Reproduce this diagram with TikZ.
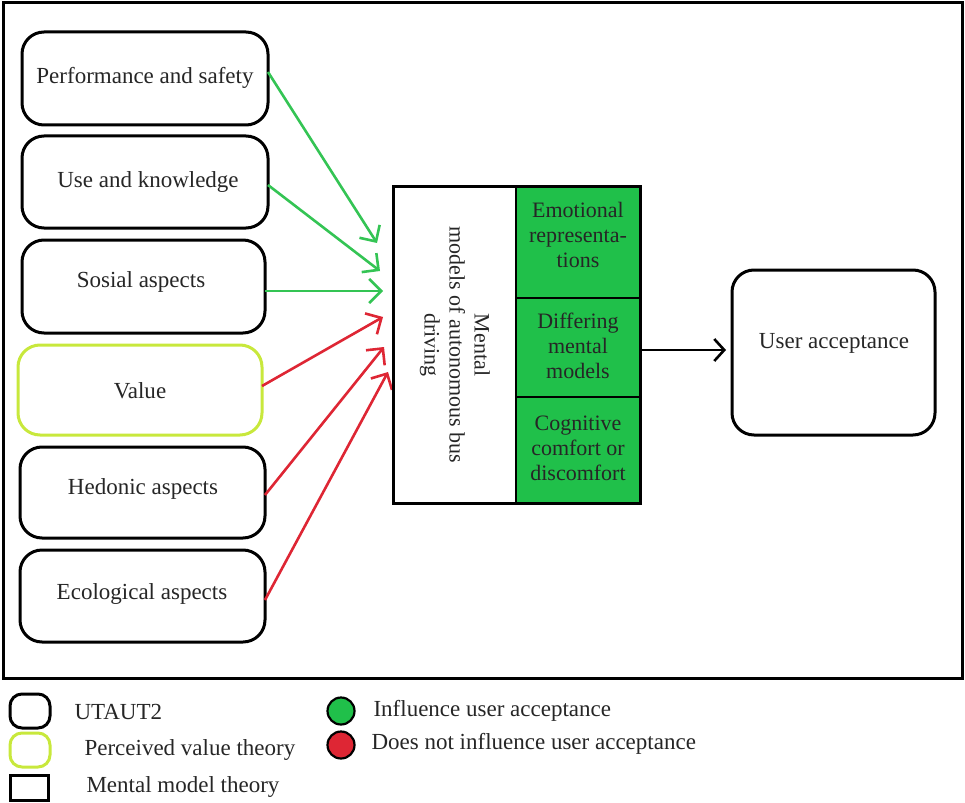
\documentclass[tikz,border=0pt]{standalone}
\usepackage{fontspec}
\setmainfont{Liberation Serif}
\usetikzlibrary{arrows.meta}
\definecolor{boxgreen}{RGB}{32,192,74}
\definecolor{arrgreen}{RGB}{52,196,84}
\definecolor{arrred}{RGB}{222,38,52}
\definecolor{valyel}{RGB}{200,232,60}
\tikzset{
  txt/.style={font=\fontsize{23}{25}\selectfont, text=black!85},
  ctxt/.style={font=\fontsize{22}{25}\selectfont, text=black!85},
  rbox/.style={draw=black, line width=3pt, rounded corners=22pt, fill=white},
  ybox/.style={draw=valyel, line width=3pt, rounded corners=22pt, fill=white},
  garr/.style={draw=arrgreen, line width=2.6pt, -{Straight Barb[length=12pt,width=24pt,line width=2.6pt]}},
  rarr/.style={draw=arrred, line width=2.6pt, -{Straight Barb[length=12pt,width=24pt,line width=2.6pt]}},
  karr/.style={draw=black, line width=2.6pt, -{Straight Barb[length=10pt,width=22pt,line width=2.6pt]}},
}
\begin{document}
\begin{tikzpicture}[x=1pt,y=-1pt]
\useasboundingbox (0,0) rectangle (965,802);
\draw[line width=3pt] (3,3) rectangle (962,678);
% left boxes
\draw[rbox] (22,32) rectangle (268,125);
\node[txt] (perf) at (145,78) {Performance and safety};
\draw[rbox] (22,136) rectangle (268,228);
\node[txt] (use) at (148,182) {Use and knowledge};
\draw[rbox] (22,240) rectangle (265,333);
\node[txt] (soc) at (141,282) {Sosial aspects};
\draw[ybox] (18,345) rectangle (262,435);
\node[txt] (val) at (140,391) {Value};
\draw[rbox] (20,447) rectangle (265,538);
\node[txt] (hed) at (143,489) {Hedonic aspects};
\draw[rbox] (20,550) rectangle (265,642);
\node[txt] (eco) at (142,594) {Ecological aspects};
\coordinate (s1) at (268,72);
\coordinate (s2) at (268,185);
\coordinate (s3) at (265,291);
\coordinate (s4) at (262,386);
\coordinate (s5) at (265,495);
\coordinate (s6) at (265,600);
\coordinate (t1) at (377,243);
\coordinate (t2) at (380,271);
\coordinate (t3) at (383,291);
\coordinate (t4) at (383,317);
\coordinate (t5) at (384,347);
\coordinate (t6) at (388,372);
\draw[garr] (s1) -- (t1);
\draw[garr] (s2) -- (t2);
\draw[garr] (s3) -- (t3);
\draw[rarr] (s4) -- (t4);
\draw[rarr] (s5) -- (t5);
\draw[rarr] (s6) -- (t6);
% middle
\draw[line width=3pt, fill=white] (393,187) rectangle (640,503);
\node[ctxt, rotate=-90, align=center] (mm) at (455,345) {Mental\\models of autonomous bus\\driving};
\fill[boxgreen] (516,187) rectangle (640,503);
\draw[line width=1.4pt] (516,187) -- (516,503);
\draw[line width=1.4pt] (516,298) -- (640,298);
\draw[line width=1.4pt] (516,397) -- (640,397);
\draw[line width=3pt] (393,187) rectangle (640,503);
\node[ctxt, align=center] (emo) at (578,235) {Emotional\\representa-\\tions};
\node[ctxt, align=center] (dif) at (578,346) {Differing\\mental\\models};
\node[ctxt, align=center] (cog) at (578,448) {Cognitive\\comfort or\\discomfort};
% right
\draw[rbox] (732,270) rectangle (935,435);
\node[txt] (ua) at (834,343) {User acceptance};
\coordinate (m1) at (640,350);
\coordinate (m2) at (726,350);
\draw[karr] (m1) -- (m2);
% legend
\draw[draw=black, line width=3pt, rounded corners=12pt] (10,694) rectangle (50,728);
\node[txt, anchor=west] (l1) at (71,712) {UTAUT2};
\draw[draw=valyel, line width=3pt, rounded corners=12pt] (10,733) rectangle (50,767);
\node[txt, anchor=west] (l2) at (81,750) {Perceived value theory};
\draw[draw=black, line width=3pt] (10,775) rectangle (48,800);
\node[txt, anchor=west] (l3) at (83,787) {Mental model theory};
\draw[line width=2.2pt, fill=boxgreen] (341,711) circle (13.5);
\node[txt, anchor=west] (l4) at (370,711) {Influence user acceptance};
\draw[line width=2.2pt, fill=arrred] (341,745) circle (13.5);
\node[txt, anchor=west] (l5) at (368,744) {Does not influence user acceptance};
\end{tikzpicture}
\end{document}
